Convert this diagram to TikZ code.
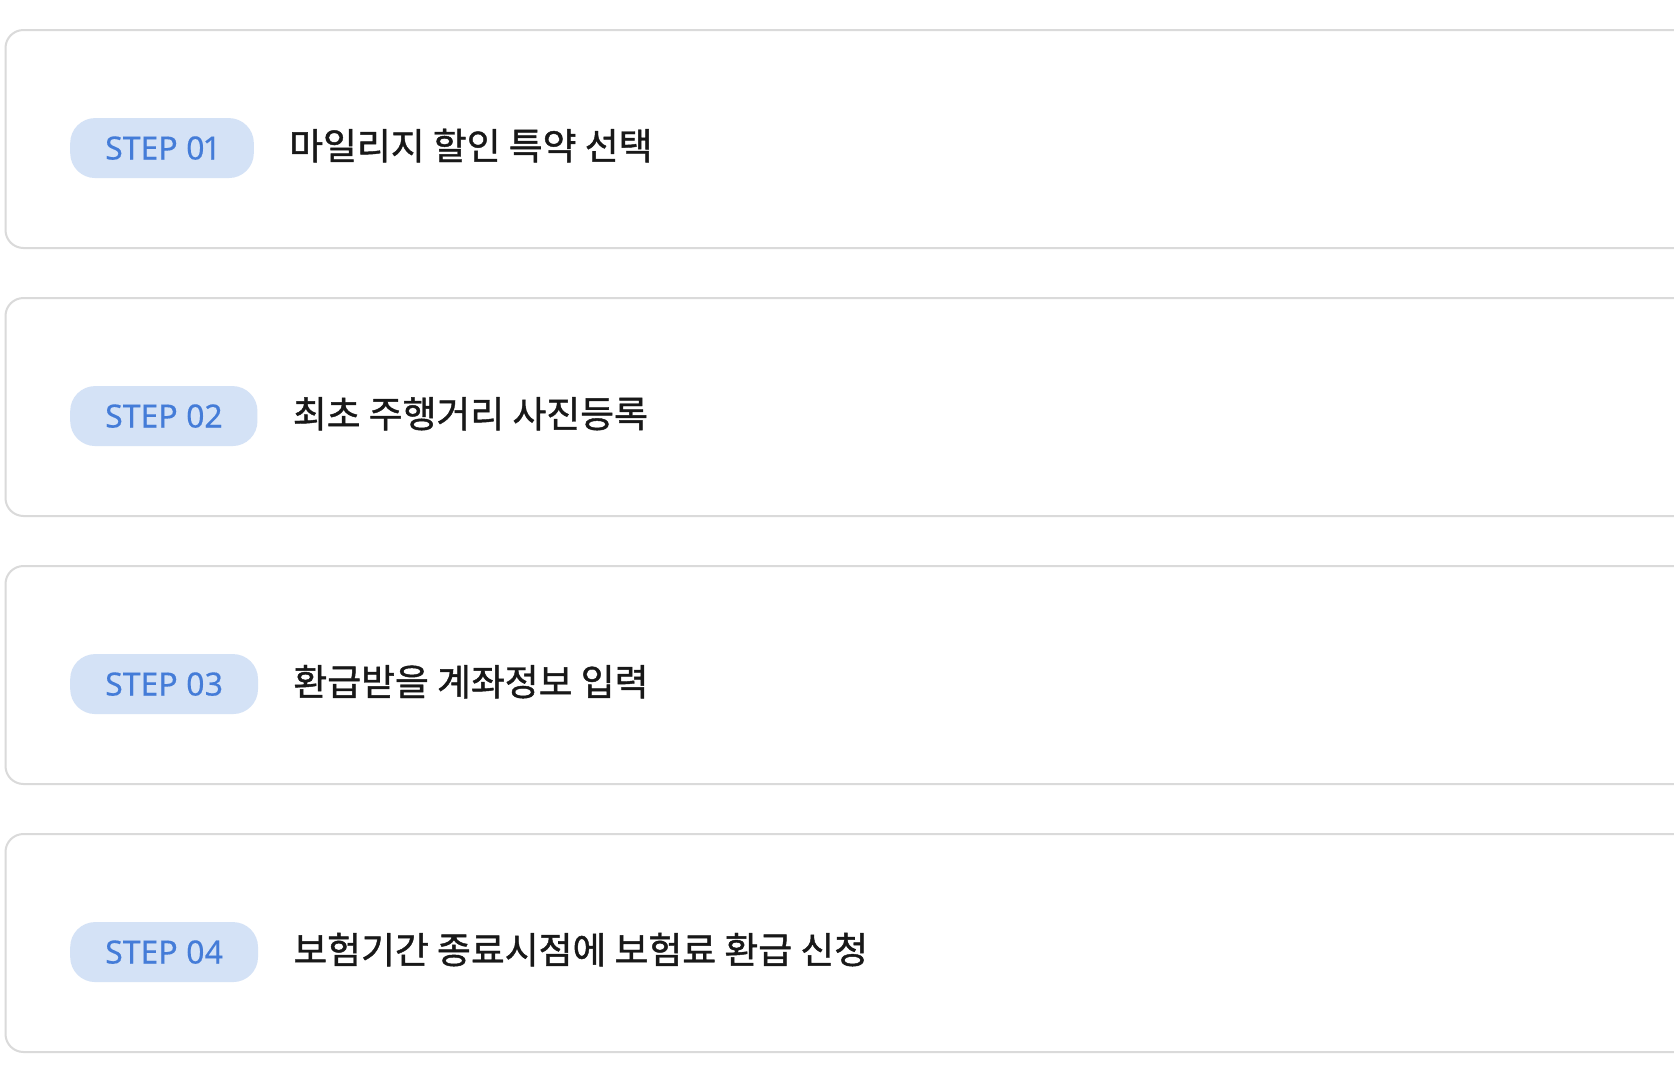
\documentclass[tikz,border=0pt]{standalone}
\usepackage{fontspec}
\newfontfamily\krfont[FakeBold=1.2]{Noto Sans CJK KR}
\newfontfamily\latfont[FakeBold=0.4,Numbers=Proportional]{Noto Sans}
\definecolor{cardline}{RGB}{218,218,218}
\definecolor{pillfill}{RGB}{212,226,246}
\definecolor{pilltext}{RGB}{68,124,216}
\definecolor{maintext}{RGB}{24,24,24}
\tikzset{
  card/.style={draw=cardline, line width=2pt, rounded corners=18pt, fill=white,
    minimum width=1720pt, minimum height=218pt, anchor=north west, inner sep=0pt},
  pill/.style={fill=pillfill, text=pilltext, rounded corners=25pt, inner xsep=35pt,
    inner ysep=0pt, minimum height=60pt, font=\latfont\fontsize{32}{36}\selectfont, anchor=base west},
  label/.style={text=maintext, inner sep=0pt, anchor=base west,
    font=\krfont\fontsize{36.8}{42}\selectfont}
}
\begin{document}
\begin{tikzpicture}[x=1pt,y=-1pt]
\fill[white] (0,0) rectangle (1674,1080);
\path[use as bounding box, clip] (0,0) rectangle (1674,1080);
\foreach \i/\top/\txt in {1/29/마일리지 할인 특약 선택,
                          2/297/최초 주행거리 사진등록,
                          3/565/환급받을 계좌정보 입력,
                          4/833/보험기간 종료시점에 보험료 환급 신청}{
  \node[card] (c\i) at (4.5,\top) {};
  \node[pill] (p\i) at (70,\top+130.5) {STEP 0\i};
  \node[label] (t\i) at ([xshift=35pt]p\i.base east) {\txt};
}
\end{tikzpicture}
\end{document}
